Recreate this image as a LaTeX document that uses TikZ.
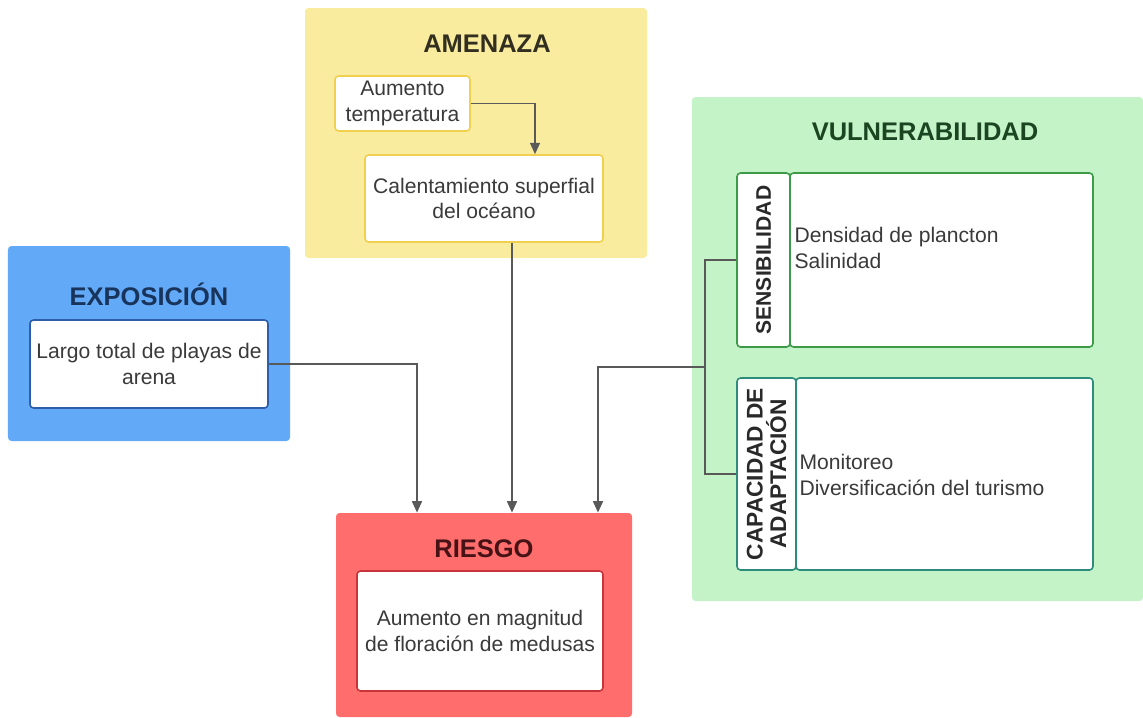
\documentclass[tikz,border=0pt]{standalone}
\usepackage{fontspec}
\setmainfont{Liberation Sans}
\usepackage{xcolor}
\usetikzlibrary{arrows.meta,positioning,calc}

\definecolor{amenazafill}{HTML}{FAEC9E}
\definecolor{amenazaline}{HTML}{F0D04E}
\definecolor{expofill}{HTML}{62A9F8}
\definecolor{expoline}{HTML}{2D5EA6}
\definecolor{riesgofill}{HTML}{FF6D6D}
\definecolor{riesgoline}{HTML}{C9343B}
\definecolor{vulnfill}{HTML}{C3F3C7}
\definecolor{sensline}{HTML}{3C9A49}
\definecolor{capline}{HTML}{2E8C7C}
\definecolor{arrowgray}{HTML}{595959}
\definecolor{bodytext}{HTML}{3A3A3A}

\begin{document}
\begin{tikzpicture}[
        container/.style={rounded corners=2pt, inner sep=0pt},
        block/.style={draw, fill=white, rounded corners=2pt, line width=0.9pt, align=center, inner sep=0pt,
            text=bodytext, font=\fontsize{12}{14.7}\selectfont},
        title/.style={font=\fontsize{14.5}{17}\selectfont\bfseries},
        tag/.style={rotate=90, align=center, text=bodytext!70!black, font=\fontsize{12}{13.2}\selectfont\bfseries},
        itemlist/.style={align=left, text=bodytext, font=\fontsize{12}{14.7}\selectfont, inner sep=0pt},
        line/.style={-{Triangle[length=6.5pt,width=5.6pt]}, draw=arrowgray, line width=1.1pt},
        link/.style={draw=arrowgray, line width=1.1pt}
    ]
        \useasboundingbox (0,0) rectangle (22.86,-14.34);

        % contenedores
        \node[container, fill=amenazafill, minimum width=6.84cm, minimum height=5cm] (amenaza) at (9.52,-2.66) {};
        \node[container, fill=expofill, minimum width=5.64cm, minimum height=3.9cm] (expo) at (2.98,-6.87) {};
        \node[container, fill=riesgofill, minimum width=5.92cm, minimum height=4.08cm] (riesgo) at (9.68,-12.3) {};
        \node[container, fill=vulnfill, minimum width=9.02cm, minimum height=10.08cm] (vuln) at (18.35,-6.98) {};

        % titulos
        \node[title, text=amenazafill!20!black] at (9.74,-0.88) {AMENAZA};
        \node[title, text=expoline!55!black] at (2.98,-5.88) {EXPOSICIÓN};
        \node[title, text=riesgoline!35!black] at (9.68,-10.98) {RIESGO};
        \node[title, text=sensline!45!black] at (18.5,-2.64) {VULNERABILIDAD};

        % amenaza
        \node[block, draw=amenazaline, minimum width=2.7cm, minimum height=1.1cm] (aumento) at (8.05,-2.07) {Aumento\\temperatura};
        \node[block, draw=amenazaline, minimum width=4.76cm, minimum height=1.74cm] (calent) at (9.68,-3.97) {Calentamiento superfial\\del océano};

        % exposicion
        \node[block, draw=expoline, minimum width=4.76cm, minimum height=1.76cm] (largo) at (2.98,-7.28) {Largo total de playas de\\arena};

        % riesgo
        \node[block, draw=riesgoline, minimum width=4.92cm, minimum height=2.4cm] (medusas) at (9.6,-12.62) {Aumento en magnitud\\de floración de medusas};

        % vulnerabilidad
        \node[block, draw=sensline, minimum width=1.06cm, minimum height=3.48cm,
            label={[tag]center:SENSIBILIDAD}] (senslab) at (15.27,-5.2) {};
        \node[block, draw=sensline, minimum width=6.06cm, minimum height=3.48cm] (senstxt) at (18.83,-5.2) {};
        \node[itemlist, anchor=west] (senslist) at ([shift={(0.1,0.24)}]senstxt.west) {Densidad de plancton\\Salinidad};
        \node[block, draw=capline, minimum width=1.18cm, minimum height=3.84cm,
            label={[tag, font=\fontsize{12.9}{13.4}\selectfont\bfseries]center:CAPACIDAD DE\\ADAPTACIÓN}] (caplab) at (15.33,-9.48) {};
        \node[block, draw=capline, minimum width=5.94cm, minimum height=3.84cm] (captxt) at (18.89,-9.48) {};
        \node[itemlist, anchor=west] (caplist) at ([shift={(0.08,-0.02)}]captxt.west) {Monitoreo\\Diversificación del turismo};

        % conexiones
        \draw[line] (aumento.east) -| ([xshift=1.02cm]calent.north);
        \draw[line] ([xshift=0.56cm]calent.south) -- ([xshift=0.56cm]riesgo.north);
        \draw[line] (largo.east) -| ([xshift=-1.34cm]riesgo.north);
        \draw[link] (senslab.west) -- ++(-0.62,0) coordinate (br) |- (caplab.west);
        \coordinate (junc) at ($(br)!0.5!(br |- caplab.west)$);
        \draw[line] (junc) -| ([xshift=2.28cm]riesgo.north);
    \end{tikzpicture}
\end{document}
